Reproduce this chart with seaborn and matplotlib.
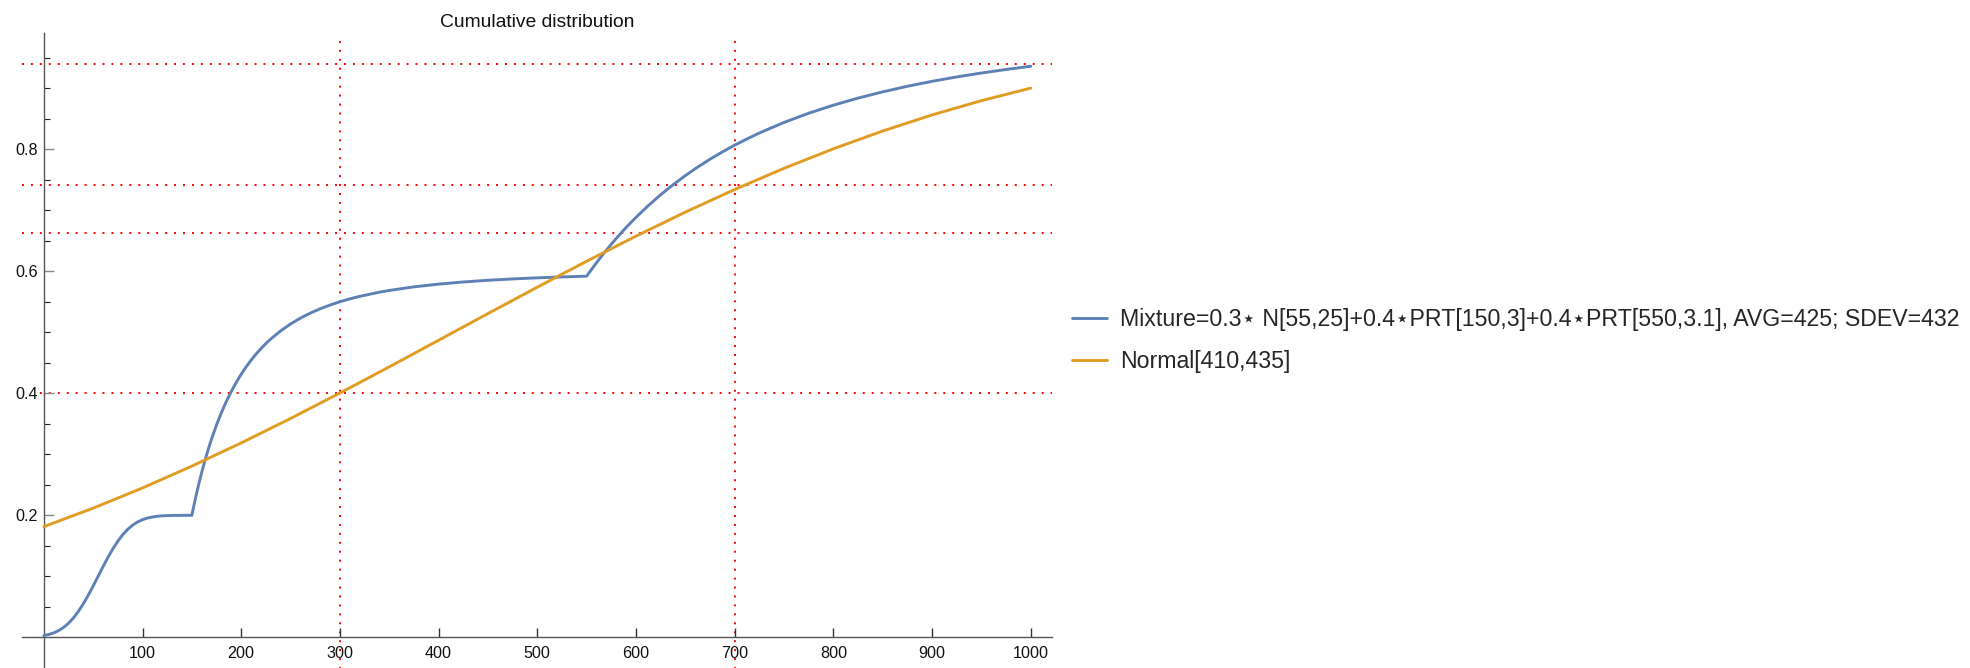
import numpy as np
import pandas as pd
import matplotlib
matplotlib.use("Agg")
import matplotlib.pyplot as plt
import seaborn as sns
from matplotlib.lines import Line2D

# ---------------- data ----------------
mix_x = [0, 5, 10, 15, 20, 25, 30, 35, 40, 45, 50, 55, 60, 65, 70, 75, 80, 85,
         90, 95, 100, 105, 110, 115, 120, 125, 130, 140, 150,
         152, 155, 157.5, 160, 162.5, 165, 167.5, 170, 175, 180, 185, 190, 195,
         200, 205, 210, 215, 220, 225, 230, 240, 250, 260, 270, 280, 290, 300,
         310, 320, 340, 350, 375, 400, 425, 450, 475, 500, 525, 550,
         555, 560, 565, 570, 575, 580, 585, 590, 595, 600, 612.5, 625, 637.5,
         650, 662.5, 675, 687.5, 700, 712.5, 725, 750, 775, 800, 825, 850,
         875, 900, 925, 950, 975, 1000]
mix_y = [0.0028, 0.0046, 0.0072, 0.0110, 0.0162, 0.0230, 0.0317, 0.0424,
         0.0549, 0.0689, 0.0841, 0.1000, 0.1159, 0.1311, 0.1451, 0.1576,
         0.1683, 0.1770, 0.1838, 0.1890, 0.1928, 0.1955, 0.1972, 0.1984,
         0.1991, 0.1995, 0.1997, 0.1999, 0.2000,
         0.2156, 0.2375, 0.2545, 0.2704, 0.2854, 0.2995, 0.3127, 0.3252,
         0.3481, 0.3685, 0.3868, 0.4032, 0.4179, 0.4313, 0.4433, 0.4542,
         0.4642, 0.4732, 0.4815, 0.4890, 0.5023, 0.5136, 0.5232, 0.5314,
         0.5385, 0.5446, 0.5500, 0.5547, 0.5588, 0.5657, 0.5685, 0.5744,
         0.5789, 0.5824, 0.5852, 0.5874, 0.5892, 0.5907, 0.5919,
         0.6032, 0.6140, 0.6245, 0.6346, 0.6444, 0.6538, 0.6629, 0.6717,
         0.6801, 0.6883, 0.7076, 0.7254, 0.7417, 0.7568, 0.7707, 0.7836,
         0.7956, 0.8067, 0.8169, 0.8266, 0.8439, 0.8590, 0.8722, 0.8838,
         0.8940, 0.9032, 0.9113, 0.9185, 0.9249, 0.9307, 0.9360]

norm_x = [0, 50, 100, 150, 200, 250, 300, 350, 400, 450, 500, 550, 600,
          650, 700, 750, 800, 850, 900, 950, 1000]
norm_y = [0.1814, 0.2117, 0.2448, 0.2806, 0.3186, 0.3587, 0.4004, 0.4433,
          0.4869, 0.5306, 0.5739, 0.6164, 0.6575, 0.6969, 0.7340, 0.7687,
          0.8007, 0.8299, 0.8562, 0.8796, 0.9002]

ref_x = [300, 700]
ref_y = [0.4, 0.663, 0.741, 0.940]

x_ticks = [100, 200, 300, 400, 500, 600, 700, 800, 900, 1000]
x_tick_labels = ["100", "200", "300", "400", "500", "600", "700", "800", "900", "1000"]
y_ticks = [0.2, 0.4, 0.6, 0.8]
y_tick_labels = ["0.2", "0.4", "0.6", "0.8"]
y_minor = [0.05, 0.1, 0.15, 0.25, 0.3, 0.35, 0.45, 0.5, 0.55, 0.65, 0.7, 0.75,
           0.85, 0.9, 0.95]

title = "Cumulative distribution"
labels = ["Mixture=0.3\u22c6 N[55,25]+0.4\u22c6PRT[150,3]+0.4\u22c6PRT[550,3.1], AVG=425; SDEV=432",
          "Normal[410,435]"]

BLUE = "#5E81B5"
ORANGE = "#E19C24"

# ---------------- style ----------------
sns.set_style("white")
plt.rcParams["font.family"] = ["Liberation Sans", "DejaVu Sans"]

W, H = 1970, 668
fig = plt.figure(figsize=(W / 100, H / 100), dpi=100)
ax_left, ax_right, ax_top = 22.3, 1051.7, 33.3
ax = fig.add_axes([ax_left / W, 0, (ax_right - ax_left) / W, (H - ax_top) / H])
ax.set_facecolor("white")
ax.set_axisbelow(False)

# reference lines
dot = (0, (1, 3.6))
for yv in ref_y:
    ax.axhline(yv, color="#FF0000", lw=1.4, ls=dot, zorder=1)
for xv in ref_x:
    ax.vlines(xv, -0.06, 0.982, color="#FF0000", lw=1.4, linestyles=[dot], zorder=1)

df_mix = pd.DataFrame({"x": mix_x, "y": mix_y})
df_norm = pd.DataFrame({"x": norm_x, "y": norm_y})
sns.lineplot(data=df_mix, x="x", y="y", ax=ax, color=BLUE, lw=2.1, zorder=3)
sns.lineplot(data=df_norm, x="x", y="y", ax=ax, color=ORANGE, lw=2.1, zorder=3)

ax.set_xlim(-21.8, 1021.2)
ax.set_ylim(-0.0503, 0.990)
ax.set_xlabel("")
ax.set_ylabel("")

for s in ["top", "right"]:
    ax.spines[s].set_visible(False)
ax.spines["left"].set_position(("data", 0))
ax.spines["bottom"].set_position(("data", 0))
for s in ["left", "bottom"]:
    ax.spines[s].set_color("#555555")
    ax.spines[s].set_linewidth(1.0)
    ax.spines[s].set_zorder(2.6)

ax.set_xticks(x_ticks)
ax.set_xticklabels(x_tick_labels)
ax.set_yticks(y_ticks)
ax.set_yticklabels(y_tick_labels)
ax.set_yticks(y_minor, minor=True)
ax.tick_params(axis="x", which="major", bottom=True, direction="in", length=6.5,
               width=1.0, color="#333333", pad=6.3, labelsize=11.6,
               labelcolor="#111111")
ax.tick_params(axis="y", which="major", left=True, direction="in", length=7.2,
               width=1.0, color="#888888", pad=4.0, labelsize=11.6,
               labelcolor="#111111")
ax.tick_params(axis="y", which="minor", left=True, direction="in", length=4.3,
               width=0.8, color="#222222")
ax.grid(False)
for lbl in ax.get_yticklabels():
    lbl.set_bbox(dict(facecolor="white", edgecolor="none", pad=0.6))

fig.text(537 / W, 1 - 22.7 / H, title, ha="center", va="center",
         fontsize=13.9, color="#111111")

handles = [Line2D([], [], color=BLUE, lw=2.1), Line2D([], [], color=ORANGE, lw=2.1)]
fig.legend(handles, labels, loc="upper left", bbox_to_anchor=(1071.7 / W, 1 - 308.4 / H),
           frameon=False, fontsize=16.7, handlelength=1.53, handletextpad=0.55,
           borderaxespad=0, borderpad=0, labelspacing=0.79)

fig.savefig("out.png", dpi=100, facecolor="white")
